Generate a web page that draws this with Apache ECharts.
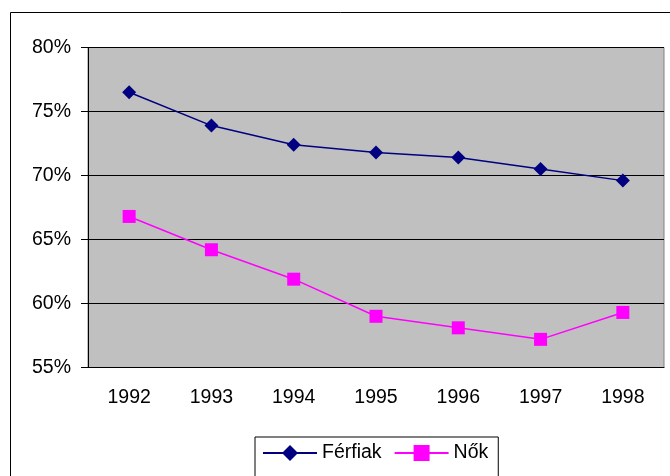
<!DOCTYPE html>
<html>
<head>
<meta charset="utf-8">
<script src="https://cdn.jsdelivr.net/npm/echarts@6/dist/echarts.min.js"></script>
<style>
html,body{margin:0;padding:0;background:#fff;}
#c{width:670px;height:476px;}
</style>
</head>
<body>
<div id="c"></div>
<script>
var years = ['1992','1993','1994','1995','1996','1997','1998'];
var ferfiak = [76.5, 73.9, 72.4, 71.8, 71.4, 70.5, 69.6];
var nok = [66.8, 64.2, 61.9, 59.0, 58.1, 57.2, 59.3];
var yTicks = {min: 55, max: 80, interval: 5};

var FONT = '"Liberation Sans", Arial, sans-serif';
var chart = echarts.init(document.getElementById('c'));
chart.setOption({
  animation: false,
  backgroundColor: '#fff',
  textStyle: {fontFamily: FONT, color: '#000'},
  graphic: [{
    type: 'rect', z: -10, silent: true,
    shape: {x: 10.5, y: 12.5, width: 700, height: 500},
    style: {fill: '#fff', stroke: '#000', lineWidth: 1}
  }],
  grid: {
    left: 88, right: 6, top: 47.5, bottom: 108.5,
    show: true, backgroundColor: '#C0C0C0', borderColor: '#808080', borderWidth: 1
  },
  legend: {
    left: 255, top: 437,
    padding: [6, 10, 20, 7],
    borderColor: '#000', borderWidth: 1,
    backgroundColor: '#fff',
    itemWidth: 54, itemHeight: 20, itemGap: 12,
    textStyle: {fontFamily: FONT, fontSize: 19.5, color: '#000'},
    data: ['Férfiak', 'Nők']
  },
  xAxis: {
    type: 'category', data: years, boundaryGap: true,
    axisLine: {lineStyle: {color: '#000', width: 1}},
    axisTick: {inside: true, length: 6, lineStyle: {color: '#000'}},
    axisLabel: {fontFamily: FONT, fontSize: 19.5, color: '#000', margin: 20}
  },
  yAxis: {
    type: 'value', min: yTicks.min, max: yTicks.max, interval: yTicks.interval,
    axisLine: {show: true, lineStyle: {color: '#000', width: 1}},
    axisTick: {show: true, length: 7, lineStyle: {color: '#000'}},
    axisLabel: {fontFamily: FONT, fontSize: 19.5, color: '#000', margin: 17, formatter: '{value}%'},
    splitLine: {show: true, lineStyle: {color: '#000', width: 1}}
  },
  series: [{
    name: 'Férfiak', type: 'line', data: ferfiak,
    symbol: 'diamond', symbolSize: 14,
    lineStyle: {color: '#000080', width: 1.5},
    itemStyle: {color: '#000080'}
  }, {
    name: 'Nők', type: 'line', data: nok,
    symbol: 'rect', symbolSize: 13,
    lineStyle: {color: '#FF00FF', width: 1.5},
    itemStyle: {color: '#FF00FF'}
  }]
});
</script>
</body>
</html>
